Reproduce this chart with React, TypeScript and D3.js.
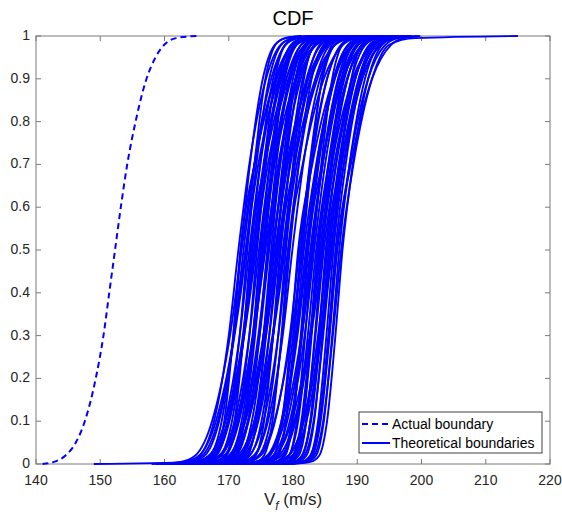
import React from 'react';
import * as d3 from 'd3';

// CDF levels at which each theoretical curve's V_f was read
const CDF_LEVELS = [0, 0.005, 0.02, 0.1, 0.3, 0.5, 0.7, 0.9, 0.98, 0.995, 1];

// Theoretical boundaries: V_f (m/s) at each CDF level
const THEORETICAL_VF: number[][] = [
  [159.5, 163.5, 165.5, 167.7, 170.0, 171.5, 173.2, 175.8, 178.1, 180.0, 182.5],
  [161.9, 165.4, 167.1, 168.9, 170.7, 171.9, 173.3, 175.3, 177.2, 178.9, 181.4],
  [160.3, 164.3, 166.3, 168.5, 170.8, 172.3, 174.0, 176.6, 178.9, 180.8, 183.3],
  [158.6, 163.1, 165.4, 168.0, 170.8, 172.6, 174.6, 177.8, 180.6, 183.1, 186.1],
  [162.9, 166.4, 168.1, 169.9, 171.7, 172.9, 174.3, 176.3, 178.2, 179.9, 182.4],
  [161.2, 165.2, 167.2, 169.4, 171.7, 173.2, 174.9, 177.5, 179.8, 181.7, 184.2],
  [163.5, 167.0, 168.7, 170.5, 172.3, 173.5, 174.9, 176.9, 178.8, 180.5, 183.0],
  [161.9, 165.9, 167.9, 170.1, 172.4, 173.9, 175.6, 178.2, 180.5, 182.4, 184.9],
  [160.1, 164.6, 166.9, 169.5, 172.3, 174.1, 176.1, 179.3, 182.1, 184.6, 187.6],
  [164.4, 167.9, 169.6, 171.4, 173.2, 174.4, 175.8, 177.8, 179.7, 181.4, 183.9],
  [162.7, 166.7, 168.7, 170.9, 173.2, 174.7, 176.4, 179.0, 181.3, 183.2, 185.7],
  [165.0, 168.5, 170.2, 172.0, 173.8, 175.0, 176.4, 178.4, 180.3, 182.0, 184.5],
  [163.4, 167.4, 169.4, 171.6, 173.9, 175.4, 177.1, 179.7, 182.0, 183.9, 186.4],
  [161.7, 166.2, 168.5, 171.1, 173.9, 175.7, 177.7, 180.9, 183.7, 186.2, 189.2],
  [166.0, 169.5, 171.2, 173.0, 174.8, 176.0, 177.4, 179.4, 181.3, 183.0, 185.5],
  [164.3, 168.3, 170.3, 172.5, 174.8, 176.3, 178.0, 180.6, 182.9, 184.8, 187.3],
  [166.6, 170.1, 171.8, 173.6, 175.4, 176.6, 178.0, 180.0, 181.9, 183.6, 186.1],
  [164.9, 168.9, 170.9, 173.1, 175.4, 176.9, 178.6, 181.2, 183.5, 185.4, 187.9],
  [163.2, 167.7, 170.0, 172.6, 175.4, 177.2, 179.2, 182.4, 185.2, 187.7, 190.7],
  [167.5, 171.0, 172.7, 174.5, 176.3, 177.5, 178.9, 180.9, 182.8, 184.5, 187.0],
  [165.8, 169.8, 171.8, 174.0, 176.3, 177.8, 179.5, 182.1, 184.4, 186.3, 188.8],
  [168.1, 171.6, 173.3, 175.1, 176.9, 178.1, 179.5, 181.5, 183.4, 185.1, 187.6],
  [166.4, 170.4, 172.4, 174.6, 176.9, 178.4, 180.1, 182.7, 185.0, 186.9, 189.4],
  [164.6, 169.1, 171.4, 174.0, 176.8, 178.6, 180.6, 183.8, 186.6, 189.1, 192.1],
  [168.9, 172.4, 174.1, 175.9, 177.7, 178.9, 180.3, 182.3, 184.2, 185.9, 188.4],
  [167.2, 171.2, 173.2, 175.4, 177.7, 179.2, 180.9, 183.5, 185.8, 187.7, 190.2],
  [169.5, 173.0, 174.7, 176.5, 178.3, 179.5, 180.9, 182.9, 184.8, 186.5, 189.0],
  [149.0, 164.5, 169.2, 171.4, 173.7, 175.2, 176.9, 179.5, 181.8, 183.7, 186.2],
  [161.7, 165.7, 167.7, 169.9, 172.2, 173.7, 175.4, 178.0, 180.3, 182.2, 184.7],
  [167.0, 170.5, 172.2, 174.0, 175.8, 177.0, 178.4, 180.4, 182.3, 184.0, 186.5],
  [163.8, 166.8, 168.0, 169.3, 170.7, 171.8, 174.0, 177.3, 180.3, 182.3, 184.8],
  [158.7, 163.7, 165.9, 168.3, 170.9, 172.7, 174.0, 175.7, 177.3, 178.7, 181.2],
  [165.4, 168.4, 169.6, 170.9, 172.3, 173.4, 175.6, 178.9, 181.9, 183.9, 186.4],
  [160.2, 165.2, 167.4, 169.8, 172.4, 174.2, 175.5, 177.2, 178.8, 180.2, 182.7],
  [166.9, 169.9, 171.1, 172.4, 173.8, 174.9, 177.1, 180.4, 183.4, 185.4, 187.9],
  [161.6, 166.6, 168.8, 171.2, 173.8, 175.6, 176.9, 178.6, 180.2, 181.6, 184.1],
  [164.1, 168.1, 170.1, 172.3, 174.6, 176.1, 177.8, 180.4, 182.7, 184.6, 187.1],
  [168.8, 171.8, 173.0, 174.3, 175.7, 176.8, 179.0, 182.3, 185.3, 187.3, 189.8],
  [163.4, 168.4, 170.6, 173.0, 175.6, 177.4, 178.7, 180.4, 182.0, 183.4, 185.9],
  [170.0, 173.0, 174.2, 175.5, 176.9, 178.0, 180.2, 183.5, 186.5, 188.5, 191.0],
  [164.7, 169.7, 171.9, 174.3, 176.9, 178.7, 180.0, 181.7, 183.3, 184.7, 187.2],
  [171.3, 174.3, 175.5, 176.8, 178.2, 179.3, 181.5, 184.8, 187.8, 189.8, 192.3],
  [167.9, 171.9, 173.9, 176.1, 178.4, 179.9, 181.6, 184.2, 186.5, 188.4, 190.9],
  [158.0, 162.5, 164.8, 167.4, 170.2, 172.0, 174.0, 177.2, 180.0, 182.5, 185.5],
  [165.3, 168.8, 170.5, 172.3, 174.1, 175.3, 176.7, 178.7, 180.6, 182.3, 184.8],
  [163.6, 168.1, 170.4, 173.0, 175.8, 177.6, 179.6, 182.8, 185.6, 188.1, 191.1],
  [169.0, 173.0, 175.0, 177.2, 179.5, 181.0, 182.7, 185.3, 187.6, 189.5, 192.0],
  [173.3, 176.3, 177.7, 178.9, 180.2, 181.3, 182.9, 185.3, 187.5, 189.3, 191.8],
  [172.7, 176.2, 177.5, 178.9, 180.4, 181.7, 183.6, 186.5, 189.2, 191.2, 194.2],
  [170.0, 174.0, 176.0, 178.2, 180.5, 182.0, 183.7, 186.3, 188.6, 190.5, 193.0],
  [174.4, 177.4, 178.8, 180.0, 181.3, 182.4, 184.0, 186.4, 188.6, 190.4, 192.9],
  [173.7, 177.2, 178.5, 179.9, 181.4, 182.7, 184.6, 187.5, 190.2, 192.2, 195.2],
  [175.0, 178.0, 179.4, 180.6, 181.9, 183.0, 184.6, 187.0, 189.2, 191.0, 193.5],
  [171.3, 175.3, 177.3, 179.5, 181.8, 183.3, 185.0, 187.6, 189.9, 191.8, 194.3],
  [174.6, 178.1, 179.4, 180.8, 182.3, 183.6, 185.5, 188.4, 191.1, 193.1, 196.1],
  [175.9, 178.9, 180.3, 181.5, 182.8, 183.9, 185.5, 187.9, 190.1, 191.9, 194.4],
  [172.2, 176.2, 178.2, 180.4, 182.7, 184.2, 185.9, 188.5, 190.8, 192.7, 195.2],
  [176.5, 179.5, 180.9, 182.1, 183.4, 184.5, 186.1, 188.5, 190.7, 192.5, 195.0],
  [175.8, 179.3, 180.6, 182.0, 183.5, 184.8, 186.7, 189.6, 192.3, 194.3, 197.3],
  [177.1, 180.1, 181.5, 182.7, 184.0, 185.1, 186.7, 189.1, 191.3, 193.1, 195.6],
  [173.4, 177.4, 179.4, 181.6, 183.9, 185.4, 187.1, 189.7, 192.0, 193.9, 196.4],
  [177.7, 180.7, 182.1, 183.3, 184.6, 185.7, 187.3, 189.7, 191.9, 193.7, 196.2],
  [177.0, 180.5, 181.8, 183.2, 184.7, 186.0, 187.9, 190.8, 193.5, 195.5, 198.5],
  [178.3, 181.3, 182.7, 183.9, 185.2, 186.3, 187.9, 190.3, 192.5, 194.3, 196.8],
  [178.6, 181.6, 183.0, 184.2, 185.5, 186.6, 188.2, 190.6, 192.8, 194.6, 197.1],
  [177.9, 181.4, 182.7, 184.1, 185.6, 186.9, 188.8, 191.7, 194.4, 196.4, 199.4],
  [179.2, 182.2, 183.6, 184.8, 186.1, 187.2, 188.8, 191.2, 193.4, 195.2, 197.7],
  [178.5, 182.0, 183.3, 184.7, 186.2, 187.5, 189.4, 192.3, 195.0, 199.0, 215.0],
  [170.2, 174.2, 176.2, 178.4, 180.7, 182.2, 183.9, 186.5, 188.8, 190.7, 193.2],
  [176.0, 179.0, 180.4, 181.6, 182.9, 184.0, 185.6, 188.0, 190.2, 192.0, 194.5],
  [173.9, 177.9, 179.9, 182.1, 184.4, 185.9, 187.6, 190.2, 192.5, 194.4, 196.9],
  [172.8, 175.8, 177.0, 178.3, 179.7, 180.8, 183.0, 186.3, 189.3, 191.3, 193.8],
  [167.5, 172.5, 174.7, 177.1, 179.7, 181.5, 182.8, 184.5, 186.1, 187.5, 190.0],
  [174.3, 177.3, 178.5, 179.8, 181.2, 182.3, 184.5, 187.8, 190.8, 192.8, 195.3],
  [169.1, 174.1, 176.3, 178.7, 181.3, 183.1, 184.4, 186.1, 187.7, 189.1, 191.6],
  [175.8, 178.8, 180.0, 181.3, 182.7, 183.8, 186.0, 189.3, 192.3, 194.3, 196.8],
  [170.6, 175.6, 177.8, 180.2, 182.8, 184.6, 185.9, 187.6, 189.2, 190.6, 193.1],
  [177.2, 180.2, 181.4, 182.7, 184.1, 185.2, 187.4, 190.7, 193.7, 195.7, 198.2],
  [172.1, 177.1, 179.3, 181.7, 184.3, 186.1, 187.4, 189.1, 190.7, 192.1, 194.6],
  [178.8, 181.8, 183.0, 184.3, 185.7, 186.8, 189.0, 192.3, 195.3, 197.3, 199.8],
  [179.7, 182.7, 184.1, 185.3, 186.6, 187.7, 189.3, 191.7, 193.9, 195.7, 198.2],
  [170.9, 174.9, 176.9, 179.1, 181.4, 182.9, 184.6, 187.2, 189.5, 191.4, 193.9],
  [170.4, 174.9, 177.2, 179.8, 182.6, 184.4, 186.4, 189.6, 192.4, 194.9, 197.9],
  [176.6, 180.1, 181.4, 182.8, 184.3, 185.6, 187.5, 190.4, 193.1, 195.1, 198.1],
  [171.2, 174.7, 176.4, 178.2, 180.0, 181.2, 182.6, 184.6, 186.5, 188.2, 190.7],
];

// Actual boundary (dashed)
const ACTUAL_CDF = [0, 0.005, 0.02, 0.05, 0.1, 0.2, 0.3, 0.4, 0.5, 0.6, 0.7, 0.8, 0.9, 0.95, 0.98, 0.995, 1];
const ACTUAL_VF = [141.0, 142.8, 144.6, 146.2, 147.6, 149.3, 150.5, 151.4, 152.3, 153.2, 154.2, 155.5, 157.2, 158.6, 160.0, 161.8, 165.0];

const X_TICKS = [140, 150, 160, 170, 180, 190, 200, 210, 220];
const Y_TICKS = [0, 0.1, 0.2, 0.3, 0.4, 0.5, 0.6, 0.7, 0.8, 0.9, 1];
const Y_TICK_LABELS = ['0', '0.1', '0.2', '0.3', '0.4', '0.5', '0.6', '0.7', '0.8', '0.9', '1'];

const TITLE = 'CDF';
const LEGEND_LABELS = ['Actual boundary', 'Theoretical boundaries'];

const FONT = '"Liberation Sans", Arial, Helvetica, sans-serif';
const BLUE = '#0000ff';

export default function App() {
  const W = 562, H = 516;
  const L = 36, R = 550, T = 36, B = 464;
  const x = d3.scaleLinear().domain([140, 220]).range([L, R]);
  const y = d3.scaleLinear().domain([0, 1]).range([B, T]);
  const line = d3
    .line<[number, number]>()
    .x((d) => x(d[0]))
    .y((d) => y(d[1]))
    .curve(d3.curveMonotoneX);

  const theo = THEORETICAL_VF.map((row) => line(row.map((v, i) => [v, CDF_LEVELS[i]] as [number, number])) || '');
  const actual = line(ACTUAL_VF.map((v, i) => [v, ACTUAL_CDF[i]] as [number, number])) || '';

  const axisColor = '#7a7a7a';
  const textColor = '#262626';
  const tick = 5;

  const lgX = 359, lgY = 412, lgW = 183, lgH = 41;

  return (
    <div style={{ position: 'absolute', left: 0, top: 0 }}>
      <svg width={W} height={H} style={{ display: 'block', background: '#fff' }} fontFamily={FONT}>
        <rect x={0} y={0} width={W} height={H} fill="#fff" />
        {/* axes box */}
        <rect x={L} y={T} width={R - L} height={B - T} fill="none" stroke={axisColor} strokeWidth={1} />
        {X_TICKS.map((t) => (
          <g key={'xt' + t}>
            <line x1={x(t)} x2={x(t)} y1={B} y2={B - tick} stroke={axisColor} />
            <line x1={x(t)} x2={x(t)} y1={T} y2={T + tick} stroke={axisColor} />
            <text x={x(t)} y={485} fontSize={14} fill={textColor} textAnchor="middle">{t}</text>
          </g>
        ))}
        {Y_TICKS.map((t, i) => (
          <g key={'yt' + t}>
            <line x1={L} x2={L + tick} y1={y(t)} y2={y(t)} stroke={axisColor} />
            <line x1={R} x2={R - tick} y1={y(t)} y2={y(t)} stroke={axisColor} />
            <text x={30} y={y(t) + 4} fontSize={14} fill={textColor} textAnchor="end">{Y_TICK_LABELS[i]}</text>
          </g>
        ))}
        {/* theoretical curves */}
        {theo.map((d, i) => (
          <path key={'th' + i} d={d} fill="none" stroke={BLUE} strokeWidth={1.9} strokeLinejoin="round" />
        ))}
        {/* actual boundary */}
        <path d={actual} fill="none" stroke={BLUE} strokeWidth={2} strokeDasharray="6,4" />
        {/* title */}
        <text x={(L + R) / 2} y={25} fontSize={20} fill="#000" textAnchor="middle">{TITLE}</text>
        {/* x label */}
        <text x={(L + R) / 2} y={505} fontSize={17} fill={textColor} textAnchor="middle">
          <tspan>V</tspan>
          <tspan dy={5} fontSize={12} fontStyle="italic">f</tspan>
          <tspan dy={-5}> (m/s)</tspan>
        </text>
        {/* legend */}
        <rect x={lgX} y={lgY} width={lgW} height={lgH} fill="#fff" stroke="#404040" strokeWidth={1} />
        <line x1={lgX + 3} x2={lgX + 31} y1={lgY + 12} y2={lgY + 12} stroke={BLUE} strokeWidth={2} strokeDasharray="6,4" />
        <text x={lgX + 33} y={lgY + 17} fontSize={14} fill="#000">{LEGEND_LABELS[0]}</text>
        <line x1={lgX + 3} x2={lgX + 31} y1={lgY + 31} y2={lgY + 31} stroke={BLUE} strokeWidth={2} />
        <text x={lgX + 33} y={lgY + 36} fontSize={14} fill="#000">{LEGEND_LABELS[1]}</text>
      </svg>
    </div>
  );
}
